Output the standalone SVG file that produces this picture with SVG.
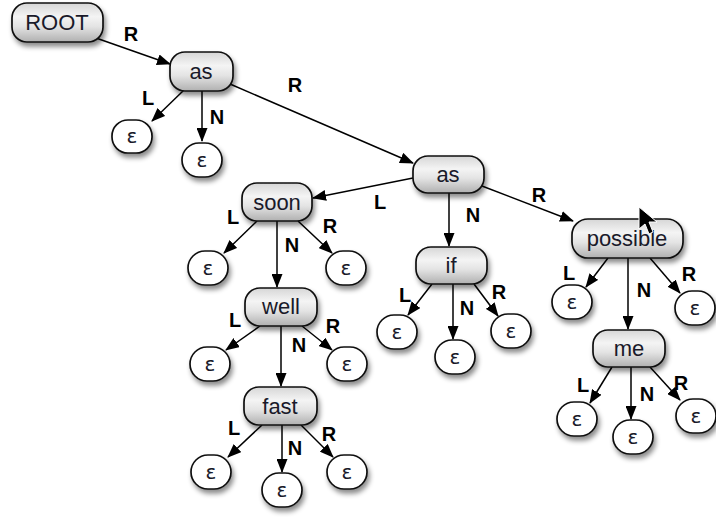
<svg xmlns="http://www.w3.org/2000/svg" width="716" height="527" viewBox="0 0 716 527">
<defs>
<linearGradient id="g" x1="0" y1="0" x2="0" y2="1">
<stop offset="0" stop-color="#d6d6d6"/>
<stop offset="0.35" stop-color="#f4f4f4"/>
<stop offset="0.6" stop-color="#e4e4e4"/>
<stop offset="1" stop-color="#b0b0b0"/>
</linearGradient>
<filter id="sh" x="-30%" y="-30%" width="170%" height="180%">
<feDropShadow dx="2" dy="4" stdDeviation="2.5" flood-color="#000" flood-opacity="0.45"/>
</filter>
<marker id="ah" markerWidth="14" markerHeight="11" refX="13" refY="5.5" orient="auto" markerUnits="userSpaceOnUse">
<path d="M0,0 L14,5.5 L0,11 Z" fill="#000"/>
</marker>
<style>
.box{fill:url(#g);stroke:#111;stroke-width:1.7;filter:url(#sh)}
.eps{fill:#fff;stroke:#111;stroke-width:1.7;filter:url(#sh)}
.t{font-family:"Liberation Sans",Arial,sans-serif;font-size:22px;fill:#1a1a2a;text-anchor:middle;dominant-baseline:central}
.e{font-family:"DejaVu Sans","Liberation Sans",sans-serif;font-size:20px;fill:#1a1a2a;text-anchor:middle;dominant-baseline:central}
.lab{font-family:"Liberation Sans",Arial,sans-serif;font-size:20px;font-weight:bold;fill:#000;text-anchor:middle;dominant-baseline:central}
.c path{fill:none;stroke:#000;stroke-width:1.5;marker-end:url(#ah)}
</style>
</defs>
<rect width="716" height="527" fill="#fff"/>

<g id="connectors" class="c">
<path d="M96 38 L170 64"/>
<path d="M184 90 L152 121"/>
<path d="M202 91 L202 141"/>
<path d="M230 84 L413 163"/>
<path d="M413 178 L313 198"/>
<path d="M449 193 L449 246"/>
<path d="M482 186 L573 221"/>
<path d="M257 221 L224 253"/>
<path d="M277 221 L277 287"/>
<path d="M298 221 L332 253"/>
<path d="M260 326 L226 350"/>
<path d="M281 326 L281 386"/>
<path d="M302 326 L332 350"/>
<path d="M262 425 L228 457"/>
<path d="M282 425 L282 472"/>
<path d="M301 425 L333 457"/>
<path d="M432 284 L408 315"/>
<path d="M453 284 L453 339"/>
<path d="M474 284 L498 316"/>
<path d="M608 258 L586 287"/>
<path d="M628 258 L628 329"/>
<path d="M650 258 L680 293"/>
<path d="M612 367 L590 403"/>
<path d="M631 367 L631 419"/>
<path d="M650 367 L680 400"/>
</g>

<g id="labels">
<text class="lab" x="131" y="34">R</text>
<text class="lab" x="148" y="98">L</text>
<text class="lab" x="217" y="117">N</text>
<text class="lab" x="295" y="85">R</text>
<text class="lab" x="380" y="202">L</text>
<text class="lab" x="473" y="215">N</text>
<text class="lab" x="539" y="195">R</text>
<text class="lab" x="233" y="217">L</text>
<text class="lab" x="292" y="245">N</text>
<text class="lab" x="330" y="226">R</text>
<text class="lab" x="235" y="320">L</text>
<text class="lab" x="299" y="345">N</text>
<text class="lab" x="333" y="326">R</text>
<text class="lab" x="234" y="428">L</text>
<text class="lab" x="295" y="448">N</text>
<text class="lab" x="329" y="434">R</text>
<text class="lab" x="405" y="295">L</text>
<text class="lab" x="467" y="308">N</text>
<text class="lab" x="499" y="292">R</text>
<text class="lab" x="569" y="273">L</text>
<text class="lab" x="644" y="290">N</text>
<text class="lab" x="689" y="274">R</text>
<text class="lab" x="583" y="385">L</text>
<text class="lab" x="647" y="394">N</text>
<text class="lab" x="681" y="383">R</text>
</g>

<g id="root"><rect class="box" x="12" y="3" width="91" height="39" rx="15"/><text class="t" x="57" y="22">ROOT</text></g>
<g id="as1"><rect class="box" x="170" y="52" width="63" height="39" rx="15"/><text class="t" x="201" y="71">as</text></g>
<g id="as2"><rect class="box" x="413" y="156" width="71" height="37" rx="15"/><text class="t" x="448" y="174">as</text></g>
<g id="soon"><rect class="box" x="242" y="183" width="70" height="38" rx="15"/><text class="t" x="277" y="202">soon</text></g>
<g id="well"><rect class="box" x="245" y="288" width="72" height="38" rx="15"/><text class="t" x="281" y="306">well</text></g>
<g id="fast"><rect class="box" x="244" y="387" width="73" height="38" rx="15"/><text class="t" x="280" y="406">fast</text></g>
<g id="if"><rect class="box" x="416" y="247" width="71" height="37" rx="15"/><text class="t" x="451" y="265">if</text></g>
<g id="possible"><rect class="box" x="572" y="219" width="111" height="39" rx="16"/><text class="t" x="627" y="238">possible</text></g>
<g id="me"><rect class="box" x="593" y="330" width="72" height="37" rx="15"/><text class="t" x="629" y="348">me</text></g>

<g id="e1"><rect class="eps" x="112" y="120" width="40" height="33" rx="16"/><text class="e" x="132" y="136">ε</text></g>
<g id="e2"><rect class="eps" x="182" y="143" width="40" height="34" rx="17"/><text class="e" x="202" y="160">ε</text></g>
<g id="e3"><rect class="eps" x="188" y="251" width="40" height="34" rx="17"/><text class="e" x="208" y="268">ε</text></g>
<g id="e4"><rect class="eps" x="326" y="251" width="40" height="34" rx="17"/><text class="e" x="346" y="268">ε</text></g>
<g id="e5"><rect class="eps" x="190" y="347" width="40" height="34" rx="17"/><text class="e" x="210" y="364">ε</text></g>
<g id="e6"><rect class="eps" x="327" y="347" width="40" height="34" rx="17"/><text class="e" x="347" y="364">ε</text></g>
<g id="e7"><rect class="eps" x="191" y="455" width="40" height="34" rx="17"/><text class="e" x="211" y="472">ε</text></g>
<g id="e8"><rect class="eps" x="262" y="473" width="40" height="34" rx="17"/><text class="e" x="282" y="490">ε</text></g>
<g id="e9"><rect class="eps" x="327" y="455" width="40" height="34" rx="17"/><text class="e" x="347" y="472">ε</text></g>
<g id="e10"><rect class="eps" x="377" y="315" width="40" height="34" rx="17"/><text class="e" x="397" y="332">ε</text></g>
<g id="e11"><rect class="eps" x="435" y="340" width="40" height="34" rx="17"/><text class="e" x="455" y="357">ε</text></g>
<g id="e12"><rect class="eps" x="491" y="314" width="40" height="34" rx="17"/><text class="e" x="511" y="331">ε</text></g>
<g id="e13"><rect class="eps" x="552" y="285" width="40" height="34" rx="17"/><text class="e" x="572" y="302">ε</text></g>
<g id="e14"><rect class="eps" x="675" y="291" width="40" height="34" rx="17"/><text class="e" x="695" y="308">ε</text></g>
<g id="e15"><rect class="eps" x="557" y="402" width="40" height="34" rx="17"/><text class="e" x="577" y="419">ε</text></g>
<g id="e16"><rect class="eps" x="613" y="420" width="40" height="34" rx="17"/><text class="e" x="633" y="437">ε</text></g>
<g id="e17"><rect class="eps" x="676" y="399" width="40" height="34" rx="17"/><text class="e" x="696" y="416">ε</text></g>

<polygon points="639,207 639,229 645,224 649,234 653,232 649,222 657,222" fill="#000" stroke="#fff" stroke-width="1"/>
</svg>
